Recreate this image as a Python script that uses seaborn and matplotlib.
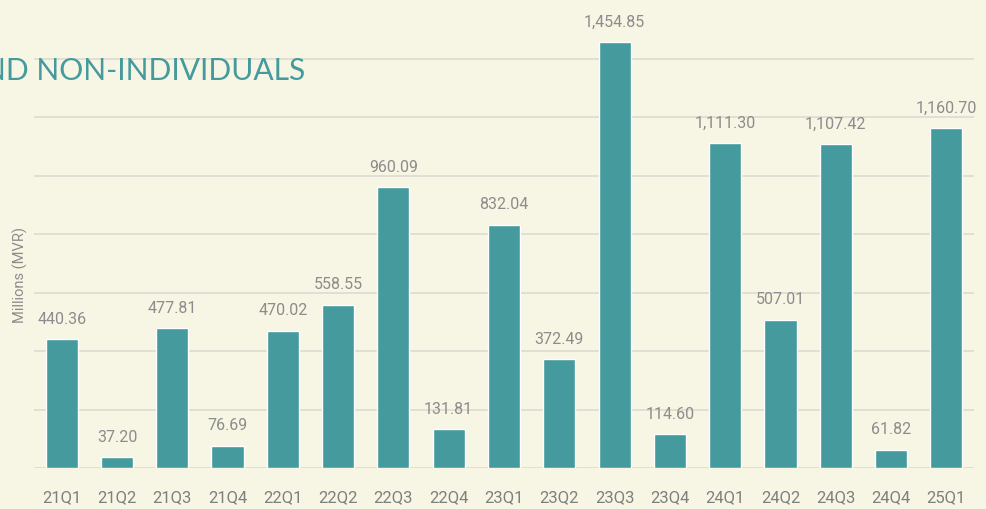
import matplotlib.pyplot as plt
import seaborn as sns
import pandas as pd

quarters = ['21Q1', '21Q2', '21Q3', '21Q4', '22Q1', '22Q2', '22Q3', '22Q4',
            '23Q1', '23Q2', '23Q3', '23Q4', '24Q1', '24Q2', '24Q3', '24Q4', '25Q1']
amounts = [440.36, 37.20, 477.81, 76.69, 470.02, 558.55, 960.09, 131.81,
           832.04, 372.49, 1454.85, 114.60, 1111.30, 507.01, 1107.42, 61.82, 1160.70]
y_ticks = [0, 200, 400, 600, 800, 1000, 1200, 1400]

bg = '#f7f5e3'
teal = '#449a9c'
grey = '#8c8c8c'

sns.set_theme(style='white')
plt.rcParams['font.family'] = ['Roboto', 'DejaVu Sans']

df = pd.DataFrame({'quarter': quarters, 'amount': amounts})

fig = plt.figure(figsize=(9.87, 5.09), dpi=100, facecolor=bg)
ax = fig.add_axes([34 / 987, 41 / 509, 940 / 987, 468 / 509])
ax.set_facecolor(bg)

sns.barplot(data=df, x='quarter', y='amount', color=teal, saturation=1,
            width=0.58, ax=ax, zorder=3)

ax.set_xlim(-0.5, 16.5)
ax.set_ylim(0, 1600)
ax.set_yticks(y_ticks)
ax.yaxis.grid(True, color='#dddbd0', linewidth=1.2, zorder=0)
ax.tick_params(axis='y', left=False, labelleft=False)
ax.tick_params(axis='x', bottom=False, labelsize=12, labelcolor='#7f7f7f', pad=10)
for s in ax.spines.values():
    s.set_visible(False)
ax.set_xlabel('')
ax.set_ylabel('')

ax.bar_label(ax.containers[0], labels=[f'{v:,.2f}' for v in amounts],
             padding=9, fontsize=11.5, color=grey)

fig.text(20 / 987, 234 / 509, 'Millions (MVR)', rotation=90, ha='center', va='center',
         fontsize=10.5, color=grey)

# title is cut at the left edge like in the original layout
fig.text(305 / 987, 429 / 509, 'ND NON-INDIVIDUALS', ha='right', va='baseline',
         fontsize=21.6, color=teal, family=['Lato', 'DejaVu Sans'], zorder=5)

fig.savefig('out.png', dpi=100, facecolor=bg)
